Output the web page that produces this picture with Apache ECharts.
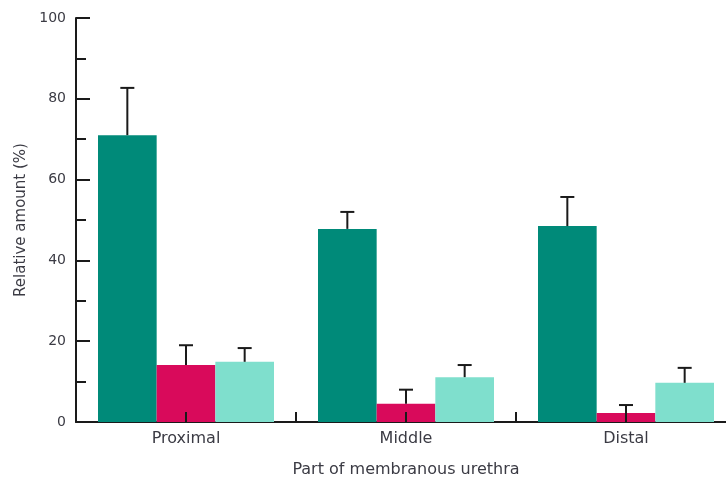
<!DOCTYPE html>
<html>
<head>
<meta charset="utf-8">
<script src="https://cdn.jsdelivr.net/npm/echarts@6/dist/echarts.min.js"></script>
<style>
  html, body { margin: 0; padding: 0; background: #fff; }
  #chart { width: 726px; height: 479px; }
</style>
</head>
<body>
<div id="chart"></div>
<script>
// categories along the urethra
const categories = ['Proximal', 'Middle', 'Distal']
// three groups, mean values (%)
const seriesA = [71, 47.8, 48.5]
const seriesB = [14.1, 4.5, 2.2]
const seriesC = [14.9, 11.1, 9.7]
// upper ends of error bars (%)
const errA = [82.7, 52, 55.7]
const errB = [19, 8, 4.2]
const errC = [18.3, 14.1, 13.4]
const yTicks = [0, 20, 40, 60, 80, 100]

const colors = ['#008a79', '#d90a5b', '#7fdfcd']
const textColor = '#3b3b44'
const font = 'DejaVu Sans'

const chart = echarts.init(document.getElementById('chart'))

// draws one error bar per category, shifted to the bar it belongs to
function errorSeries(means, tops, slot) {
  const data = means.map((m, i) => [i, m, tops[i]])
  return {
    type: 'custom',
    z: 5,
    data: data,
    renderItem: function (params, api) {
      const idx = api.value(0)
      const low = api.coord([idx, api.value(1)])
      const high = api.coord([idx, api.value(2)])
      const catW = api.size([1, 0])[0]
      const barW = catW * 0.8 / 3
      const x = low[0] + slot * barW
      const half = 7
      const style = { stroke: '#1a1a1a', lineWidth: 2 }
      return {
        type: 'group',
        children: [
          { type: 'line', shape: { x1: x, y1: low[1], x2: x, y2: high[1] }, style: style },
          { type: 'line', shape: { x1: x - half, y1: high[1], x2: x + half, y2: high[1] }, style: style }
        ]
      }
    }
  }
}

chart.setOption({
  animation: false,
  grid: { left: 76, right: -10, top: 18, bottom: 57, outerBoundsMode: 'none' },
  xAxis: [
    {
      type: 'category',
      data: categories,
      name: 'Part of membranous urethra',
      nameLocation: 'middle',
      nameGap: 40,
      nameTextStyle: { color: textColor, fontSize: 16, fontFamily: font },
      axisLine: { lineStyle: { color: '#1a1a1a', width: 2 } },
      axisTick: { show: false },
      axisLabel: { color: textColor, fontSize: 16, fontFamily: font, margin: 9 }
    },
    {
      type: 'value',
      min: 0,
      max: 3,
      interval: 0.5,
      position: 'bottom',
      z: 10,
      axisLine: { show: false },
      axisTick: {
        show: true,
        inside: true,
        length: 10,
        lineStyle: { color: '#1a1a1a', width: 2 },
        customValues: [0.5, 1, 1.5, 2, 2.5]
      },
      axisLabel: { show: false },
      splitLine: { show: false }
    }
  ],
  yAxis: {
    type: 'value',
    min: 0,
    max: 100,
    interval: 20,
    name: 'Relative amount (%)',
    nameLocation: 'middle',
    nameGap: 46,
    nameTextStyle: { color: textColor, fontSize: 15, fontFamily: font },
    axisLine: { show: true, lineStyle: { color: '#1a1a1a', width: 2 } },
    axisTick: { show: true, inside: true, length: 14, lineStyle: { color: '#1a1a1a', width: 2 } },
    minorTick: { show: true, splitNumber: 2, length: 10, lineStyle: { color: '#1a1a1a', width: 2 } },
    axisLabel: {
      color: textColor, fontSize: 14, fontFamily: font, margin: 10,
      customValues: yTicks
    },
    splitLine: { show: false }
  },
  series: [
    { type: 'bar', data: seriesA, barGap: '0%', barCategoryGap: '20%', itemStyle: { color: colors[0] } },
    { type: 'bar', data: seriesB, barGap: '0%', barCategoryGap: '20%', itemStyle: { color: colors[1] } },
    { type: 'bar', data: seriesC, barGap: '0%', barCategoryGap: '20%', itemStyle: { color: colors[2] } },
    errorSeries(seriesA, errA, -1),
    errorSeries(seriesB, errB, 0),
    errorSeries(seriesC, errC, 1)
  ]
})
</script>
</body>
</html>
